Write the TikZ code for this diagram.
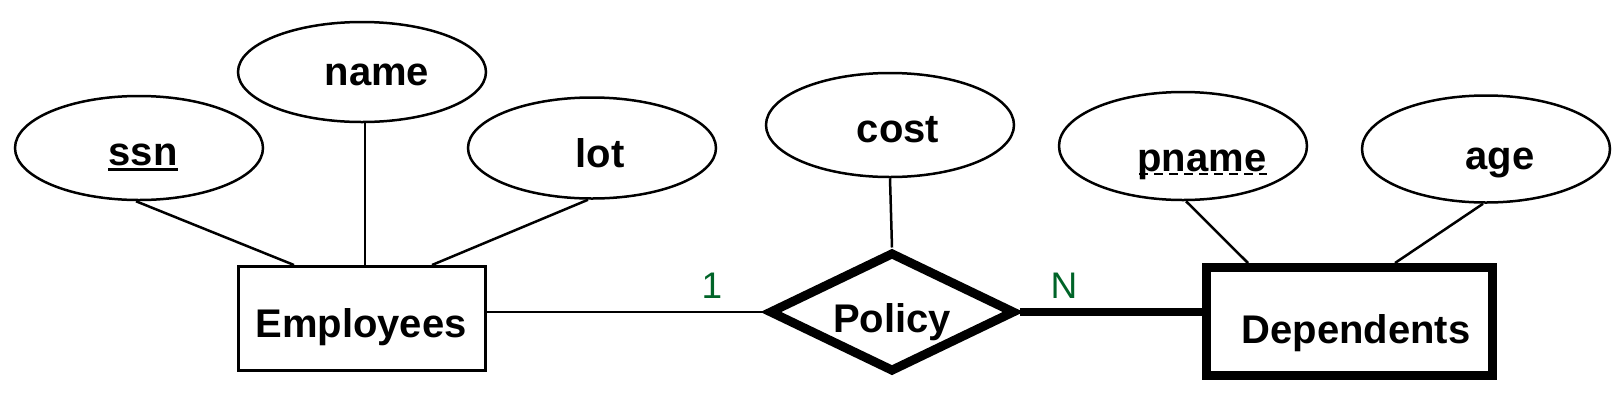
\documentclass[tikz,border=0pt]{standalone}
\usepackage{fontspec}
\setmainfont{Liberation Sans}
\usetikzlibrary{shapes.geometric}
\definecolor{cardgreen}{RGB}{0,100,40}
\begin{document}
\begin{tikzpicture}[x=1pt,y=-1pt,
  attr/.style={ellipse,draw,line width=2.5pt,inner sep=0pt,minimum width=248pt},
  lbl/.style={anchor=base,inner sep=0pt,font=\fontsize{40}{46}\selectfont\bfseries},
  card/.style={anchor=base,inner sep=0pt,font=\fontsize{37}{44}\selectfont,text=cardgreen},
  conn/.style={line width=2.5pt}]
\useasboundingbox (0,0) rectangle (1620,400);
% attributes
\node[attr,minimum height=104pt] (ssn) at (139,148) {};
\node[attr,minimum height=100pt] (name) at (362,72) {};
\node[attr,minimum height=101pt] (lot) at (592,148) {};
\node[attr,minimum height=104pt] (cost) at (890,125) {};
\node[attr,minimum height=108pt] (pname) at (1183,146) {};
\node[attr,minimum height=107pt] (age) at (1486,149) {};
\node[lbl] (ssnt) at (143,165) {ssn};
\node[lbl] (namet) at (377,85) {name};
\node[lbl] (lott) at (600,167) {lot};
\node[lbl] (costt) at (898,142) {cost};
\node[lbl] (pnt) at (1202,171) {pname};
\node[lbl] (aget) at (1500,169) {age};
\draw[line width=3.5pt] ([yshift=-4.5pt]ssnt.base west) -- ([yshift=-4.5pt]ssnt.base east);
\draw[line width=2pt,dash pattern=on 9pt off 6pt] ([xshift=2pt,yshift=-3pt]pnt.base west) -- ([yshift=-3pt]pnt.base east);
% entities and relationship
\node[draw,line width=3pt,minimum width=247pt,minimum height=104pt,inner sep=0pt] (emp) at (362,318.5) {};
\node[lbl] (empt) at (361,337) {Employees};
\node[diamond,draw,line width=9pt,minimum width=246pt,minimum height=120pt,inner sep=0pt] (pol) at (892,312) {};
\node[lbl] (polt) at (892,332) {Policy};
\node[draw,line width=9pt,minimum width=286pt,minimum height=108pt,inner sep=0pt] (dep) at (1349.5,321.5) {};
\node[lbl] (dept) at (1356,343) {Dependents};
% cardinalities
\node[card] (one) at (712,298) {1};
\node[card] (many) at (1064,298) {N};
% connectors
\draw[conn] ([xshift=-3pt]ssn.south) -- ([xshift=57pt]emp.north west);
\draw[conn] ([xshift=3pt]name.south) -- ([xshift=3pt]emp.north);
\draw[conn] ([xshift=-4pt]lot.south) -- ([xshift=-55pt]emp.north east);
\draw[conn] (cost.south) -- (pol.north);
\draw[conn] ([xshift=3pt]pname.south) -- ([xshift=46pt]dep.north west);
\draw[conn] ([xshift=-3pt]age.south) -- ([xshift=-102pt]dep.north east);
\draw[conn] (emp.east |- pol.west) -- (pol.west);
\draw[line width=8pt] (pol.east) -- (dep.west |- pol.east);
\end{tikzpicture}
\end{document}
